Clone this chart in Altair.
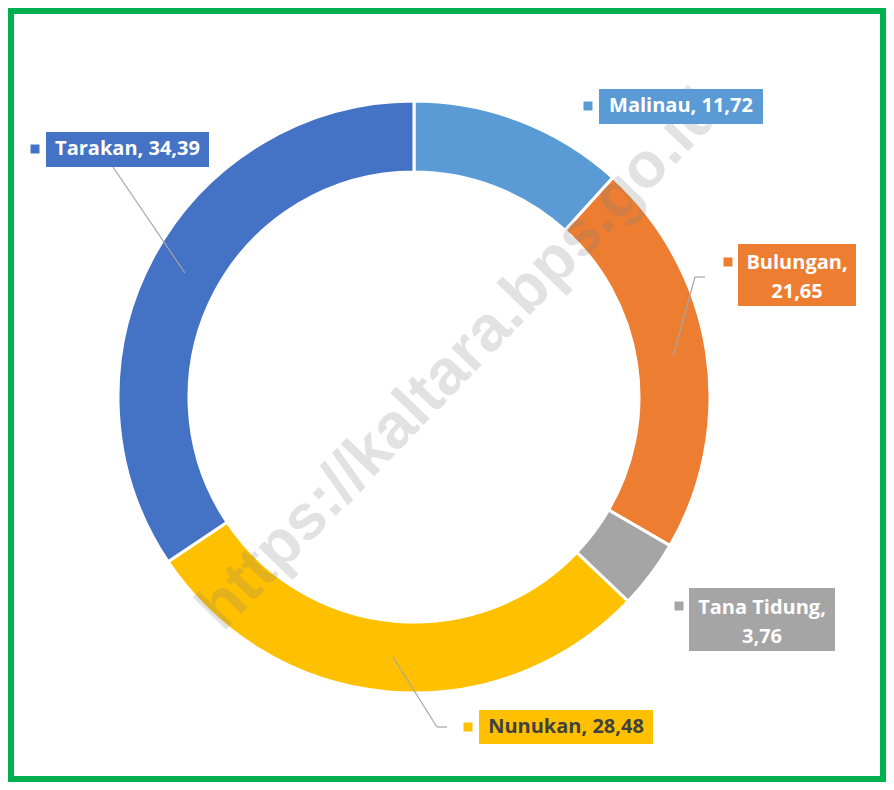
import altair as alt
import pandas as pd

# ---- data ----
categories = ["Malinau", "Bulungan", "Tana Tidung", "Nunukan", "Tarakan"]
values = [11.72, 21.65, 3.76, 28.48, 34.39]
colors = ["#5B9BD5", "#ED7D31", "#A5A5A5", "#FFC000", "#4472C4"]
text_colors = ["#FFFFFF", "#FFFFFF", "#FFFFFF", "#404040", "#FFFFFF"]
watermark = "https://kaltara.bps.go.id"

# ---- layout (chart pixel coordinates; page = chart + 8) ----
W, H = 878, 774
CX, CY = 406, 389
R_OUT, R_IN = 296, 225
FONT = "Open Sans"
FS = 20
LINE_H = 29

def fmt(v):
    return f"{v:.2f}".replace(".", ",")

# label boxes: x1, x2, y1, y2 ; square centre ; text centre x ; first line y ; two lines?
label_layout = {
    "Malinau":     dict(box=(591, 755, 81, 116),  sq=(580, 98),  tx=673,   ty=98,  two=False),
    "Bulungan":    dict(box=(730, 848, 236, 298), sq=(720, 254), tx=789,   ty=255, two=True),
    "Tana Tidung": dict(box=(681, 827, 580, 643), sq=(671, 598), tx=754,   ty=600, two=True),
    "Nunukan":     dict(box=(471, 645, 702, 736), sq=(460, 719), tx=558,   ty=719, two=False),
    "Tarakan":     dict(box=(38, 201, 124, 159),  sq=(27, 141),  tx=119.5, ty=141, two=False),
}
leader_segments = [
    (105, 159, 177, 265),
    (665, 349, 687, 269), (687, 269, 697, 269),
    (385, 649, 429, 719), (429, 719, 439, 719),
]

color_scale = alt.Scale(domain=categories, range=colors)

# ---- donut ----
df = pd.DataFrame({"cat": categories, "val": values, "ord": list(range(len(categories)))})
arcs = alt.Chart(df).mark_arc(
    innerRadius=R_IN, outerRadius=R_OUT, stroke="white", strokeWidth=3
).encode(
    theta=alt.Theta("val:Q", stack=True),
    color=alt.Color("cat:N", scale=color_scale, legend=None),
    order=alt.Order("ord:Q"),
    x=alt.value(CX),
    y=alt.value(CY),
)

# ---- watermark ----
wm = alt.Chart(pd.DataFrame({"t": [watermark]})).mark_text(
    font="Liberation Sans", fontWeight="bold", fontSize=64, angle=314,
    align="center", baseline="middle", color="#808080", opacity=0.22,
).encode(text="t:N", x=alt.value(452), y=alt.value(352))

# ---- leader lines ----
seg_df = pd.DataFrame(leader_segments, columns=["x", "y", "x2", "y2"])
leaders = alt.Chart(seg_df).mark_rule(color="#A6A6A6", strokeWidth=1.2).encode(
    x=alt.X("x:Q", scale=None), y=alt.Y("y:Q", scale=None),
    x2="x2:Q", y2="y2:Q",
)

# ---- label boxes / squares / texts ----
box_rows, sq_rows, txt_rows = [], [], []
for cat, val, tc in zip(categories, values, text_colors):
    L = label_layout[cat]
    x1, x2, y1, y2 = L["box"]
    box_rows.append(dict(cat=cat, x=x1, x2=x2, y=y1, y2=y2))
    sq_rows.append(dict(cat=cat, x=L["sq"][0], y=L["sq"][1]))
    if L["two"]:
        lines = [f"{cat},", fmt(val)]
    else:
        lines = [f"{cat}, {fmt(val)}"]
    for i, line in enumerate(lines):
        txt_rows.append(dict(cat=cat, t=line, x=L["tx"], y=L["ty"] + i * LINE_H, tc=tc))

boxes = alt.Chart(pd.DataFrame(box_rows)).mark_rect().encode(
    x=alt.X("x:Q", scale=None), x2="x2:Q",
    y=alt.Y("y:Q", scale=None), y2="y2:Q",
    color=alt.Color("cat:N", scale=color_scale, legend=None),
)
squares = alt.Chart(pd.DataFrame(sq_rows)).mark_square(size=81, opacity=1).encode(
    x=alt.X("x:Q", scale=None), y=alt.Y("y:Q", scale=None),
    color=alt.Color("cat:N", scale=color_scale, legend=None),
)
texts = alt.Chart(pd.DataFrame(txt_rows)).mark_text(
    font=FONT, fontWeight="bold", fontSize=FS, align="center", baseline="middle",
).encode(
    x=alt.X("x:Q", scale=None), y=alt.Y("y:Q", scale=None),
    text="t:N",
    color=alt.Color("tc:N", scale=None),
)

# ---- green frame ----
frame = alt.Chart(pd.DataFrame({"a": [0]})).mark_rect(
    fill=None, stroke="#00B050", strokeWidth=6, filled=False,
).encode(x=alt.value(3), x2=alt.value(W - 3), y=alt.value(3), y2=alt.value(H - 3))

chart = alt.layer(arcs, wm, leaders, boxes, squares, texts, frame).properties(
    width=W, height=H, autosize="none", padding=0, background="white",
).configure_view(stroke=None)

chart.save("out.html", embed_options={"renderer": "svg", "actions": False})
